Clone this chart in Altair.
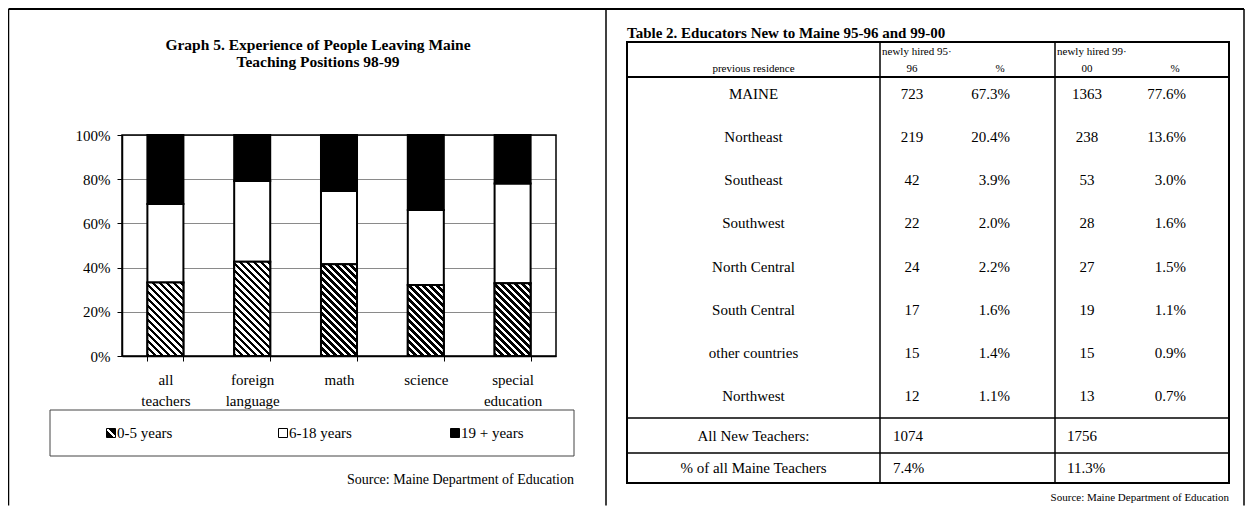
import altair as alt
import pandas as pd

# ---------------- Graph 5 data (share of people leaving, %) ----------------
categories = ["all teachers", "foreign language", "math", "science", "special education"]
series = ["0-5 years", "6-18 years", "19 + years"]
years_0_5 = [33.3, 42.7, 41.5, 32.1, 32.9]
years_6_18 = [35.5, 36.5, 33.2, 34.0, 45.2]
years_19_plus = [31.2, 20.8, 25.3, 33.9, 21.9]
y_ticks = [0, 20, 40, 60, 80, 100]

# ---------------- Table 2 data ----------------
residence = ["MAINE", "Northeast", "Southeast", "Southwest", "North Central",
             "South Central", "other countries", "Northwest"]
hired_95_96 = ["723", "219", "42", "22", "24", "17", "15", "12"]
pct_95_96 = ["67.3%", "20.4%", "3.9%", "2.0%", "2.2%", "1.6%", "1.4%", "1.1%"]
hired_99_00 = ["1363", "238", "53", "28", "27", "19", "15", "13"]
pct_99_00 = ["77.6%", "13.6%", "3.0%", "1.6%", "1.5%", "1.1%", "0.9%", "0.7%"]
summary_labels = ["All New Teachers:", "% of all Maine Teachers"]
summary_95_96 = ["1074", "7.4%"]
summary_99_00 = ["1756", "11.3%"]

FONT = "Liberation Serif"
W, H = 1237, 498


def X(v):
    return max(0.5, min(W - 1.0, v - 8))


def Y(v):
    return max(1.0, min(H - 0.5, v - 8))


one = pd.DataFrame({"k": [0]})


def hrule(x1, x2, y, color="black", width=1.0):
    return alt.Chart(one).mark_rule(color=color, strokeWidth=width).encode(
        x=alt.value(X(x1)), x2=alt.value(X(x2)), y=alt.value(Y(y)))


def vrule(x, y1, y2, color="black", width=1.0):
    return alt.Chart(one).mark_rule(color=color, strokeWidth=width).encode(
        x=alt.value(X(x)), y=alt.value(Y(y1)), y2=alt.value(Y(y2)))


def box(x1, y1, x2, y2, color="black", width=1.0):
    return alt.Chart(one).mark_rect(fillOpacity=0, stroke=color, strokeWidth=width).encode(
        x=alt.value(X(x1)), x2=alt.value(X(x2)), y=alt.value(Y(y1)), y2=alt.value(Y(y2)))


def label(text, x, y, size=15, weight="normal", align="center"):
    return alt.Chart(one).mark_text(
        text=text, font=FONT, fontSize=size, fontWeight=weight, align=align,
        baseline="middle", color="black").encode(x=alt.value(X(x)), y=alt.value(Y(y)))


# ---------------- bar chart geometry ----------------
PX0, PX1, PY0, PY1 = X(122), X(556), Y(356), Y(135)
BAR_FRAC = 0.415
p_in = 1 - BAR_FRAC
step = (PX1 - PX0) / len(categories)
bar_w = step * BAR_FRAC
px_per_pct = (PY0 - PY1) / 100.0


def hatch_fill(w, h, period=7.0, black=0.5):
    """Diagonal '\\' stripes as a linear gradient in the bar's bounding box."""
    gx, gy = 1.0 / h, -1.0 / w
    k = (1.0 / h + 1.0 / w) / (gx * gx + gy * gy)
    n = (w + h) / period
    stops = []
    i = 0
    while i < n:
        a = i / n
        b = min((i + black) / n, 1.0)
        c = min((i + 1) / n, 1.0)
        stops += [{"offset": round(a, 5), "color": "black"},
                  {"offset": round(b, 5), "color": "black"},
                  {"offset": round(b, 5), "color": "white"},
                  {"offset": round(c, 5), "color": "white"}]
        i += 1
    return {"gradient": "linear", "x1": 0, "y1": 1,
            "x2": round(k * gx, 5), "y2": round(1 + k * gy, 5), "stops": stops}


stack_rows = []
for i, c in enumerate(categories):
    for j, vals in enumerate([years_0_5, years_6_18, years_19_plus]):
        stack_rows.append({"category": c, "series": series[j], "rank": j, "share": vals[i]})
stack_df = pd.DataFrame(stack_rows)

hatch_rows = [{"category": c, "share": v, "pattern": hatch_fill(bar_w, v * px_per_pct)}
              for c, v in zip(categories, years_0_5)]

x_axis = alt.Axis(offset=-(H - PY0), orient="bottom", tickBand="extent", labelAngle=0,
                  labelExpr="datum.value ? split(datum.value, ' ') : ''",
                  labelLineHeight=21, labelFont=FONT,
                  labelFontSize=15, labelColor="black", labelPadding=11, tickSize=5,
                  tickColor="black", domainColor="black", domainWidth=1.5, grid=False,
                  title=None)
x_scale = alt.Scale(domain=categories, range=[PX0, PX1], paddingInner=p_in, paddingOuter=p_in / 2)
y_axis = alt.Axis(values=y_ticks, labelExpr="datum.value + '%'", offset=-PX0, orient="left",
                  grid=True, gridColor="#8a8a8a", gridWidth=1, domainColor="black",
                  domainWidth=1.5, tickColor="black", tickSize=5, labelFont=FONT,
                  labelFontSize=15, labelColor="black", labelPadding=7, title=None)
y_scale = alt.Scale(domain=[0, 100], range=[PY0, PY1], nice=False)

stacked = alt.Chart(stack_df).mark_bar(stroke="black", strokeWidth=2).encode(
    x=alt.X("category:N", sort=categories, scale=x_scale, axis=x_axis),
    y=alt.Y("share:Q", stack="zero", scale=y_scale, axis=y_axis),
    fill=alt.Fill("series:N", scale=alt.Scale(domain=series, range=["white", "white", "black"]),
                  legend=None),
    order=alt.Order("rank:Q", sort="ascending"),
)
hatched = alt.Chart(alt.Data(values=hatch_rows)).mark_bar(stroke="black", strokeWidth=2).encode(
    x=alt.X("category:N", sort=categories, scale=x_scale, axis=x_axis),
    y=alt.Y("share:Q", scale=y_scale, axis=y_axis),
    y2=alt.datum(0),
    fill=alt.Fill("pattern:N", scale=None),
)
bars = alt.layer(stacked, hatched)

frame = box(122, 135, 556, 356, width=1.5)

# ---------------- legend ----------------
legend_hatch = {"gradient": "linear", "x1": 0, "y1": 1, "x2": 1, "y2": 0,
                "stops": [{"offset": 0, "color": "black"}, {"offset": 0.42, "color": "black"},
                          {"offset": 0.42, "color": "white"}, {"offset": 0.6, "color": "white"},
                          {"offset": 0.6, "color": "black"}, {"offset": 1, "color": "black"}]}
legend_rows = [{"series": s, "swatch": sw}
               for s, sw in zip(series, [legend_hatch, "white", "black"])]
leg_x = alt.X("series:N", sort=series, axis=None,
              scale=alt.Scale(type="point", domain=series, range=[X(111), X(455)], padding=0))
leg_symbols = alt.Chart(alt.Data(values=legend_rows)).mark_square(
    size=81, stroke="black", strokeWidth=1, opacity=1).encode(
    x=leg_x, y=alt.value(Y(433)), fill=alt.Fill("swatch:N", scale=None))
leg_labels = alt.Chart(alt.Data(values=legend_rows)).mark_text(
    align="left", dx=6, baseline="middle", font=FONT, fontSize=15, color="black").encode(
    x=leg_x, y=alt.value(Y(433)), text="series:N")
leg_box = box(50, 410, 574, 456, color="#444", width=1)

# ---------------- table ----------------
TL, D1, D2, TR = 627, 880, 1055, 1229
T_TOP, T_HEAD, T_BODY, T_FOOT, T_BOT = 42, 77, 418, 453, 483
ROW0, ROW7 = 94, 396
FOOT0, FOOT1 = 436, 468

body = pd.DataFrame({"residence": residence, "h95": hired_95_96, "p95": pct_95_96,
                     "h99": hired_99_00, "p99": pct_99_00, "row": list(range(len(residence)))})
foot = pd.DataFrame({"label": summary_labels, "v95": summary_95_96, "v99": summary_99_00,
                     "row": list(range(len(summary_labels)))})
body_y = alt.Y("row:Q", axis=None,
               scale=alt.Scale(domain=[0, len(residence) - 1], range=[Y(ROW0), Y(ROW7)]))
foot_y = alt.Y("row:Q", axis=None,
               scale=alt.Scale(domain=[0, len(summary_labels) - 1], range=[Y(FOOT0), Y(FOOT1)]))


def col(df, yenc, field, x, align="center", size=15):
    return alt.Chart(df).mark_text(font=FONT, fontSize=size, align=align, baseline="middle",
                                   color="black").encode(
        x=alt.value(X(x)), y=yenc, text=f"{field}:N")


table_layers = [
    box(TL, T_TOP, TR, T_BOT, width=2),
    hrule(TL, TR, T_HEAD, width=2),
    hrule(TL, TR, T_BODY, width=1.5),
    hrule(TL, TR, T_FOOT, width=1.5),
    vrule(D1, T_TOP, T_BOT, width=1.5),
    vrule(D2, T_TOP, T_BOT, width=1.5),
    label("Table 2. Educators New to Maine 95-96 and 99-00", TL, 33, 15, "bold", "left"),
    label("newly hired 95·", D1 + 2, 52, 11, align="left"),
    label("96", 912, 69, 11),
    label("%", 1000, 69, 11),
    label("newly hired 99·", D2 + 2, 52, 11, align="left"),
    label("00", 1087, 69, 11),
    label("%", 1175, 69, 11),
    label("previous residence", (TL + D1) / 2, 69, 11),
    col(body, body_y, "residence", (TL + D1) / 2),
    col(body, body_y, "h95", 912),
    col(body, body_y, "p95", 1010, "right"),
    col(body, body_y, "h99", 1087),
    col(body, body_y, "p99", 1186, "right"),
    col(foot, foot_y, "label", (TL + D1) / 2),
    col(foot, foot_y, "v95", 893, "left"),
    col(foot, foot_y, "v99", 1067, "left"),
    label("Source: Maine Department of Education", TR, 498, 11, align="right"),
]

# ---------------- page borders & left texts ----------------
page_layers = [
    hrule(0, 1253, 3, width=2),
    vrule(4, 3, 514, width=1.5),
    vrule(606, 3, 514, width=1.5),
    vrule(1249, 3, 514, width=1.5),
    label("Graph 5. Experience of People Leaving Maine", 318, 45, 15.5, "bold"),
    label("Teaching Positions 98-99", 318, 62, 15.5, "bold"),
    label("Source: Maine Department of Education", 574, 480, 14, align="right"),
]

chart = alt.layer(
    bars, frame, leg_box, leg_symbols, leg_labels, *table_layers, *page_layers
).resolve_scale(
    x="independent", y="independent", fill="independent"
).properties(
    width=W, height=H, padding=0, autosize="none", background="white"
).configure_view(stroke=None)

chart.save("out.html", embed_options={"renderer": "svg", "actions": False})
